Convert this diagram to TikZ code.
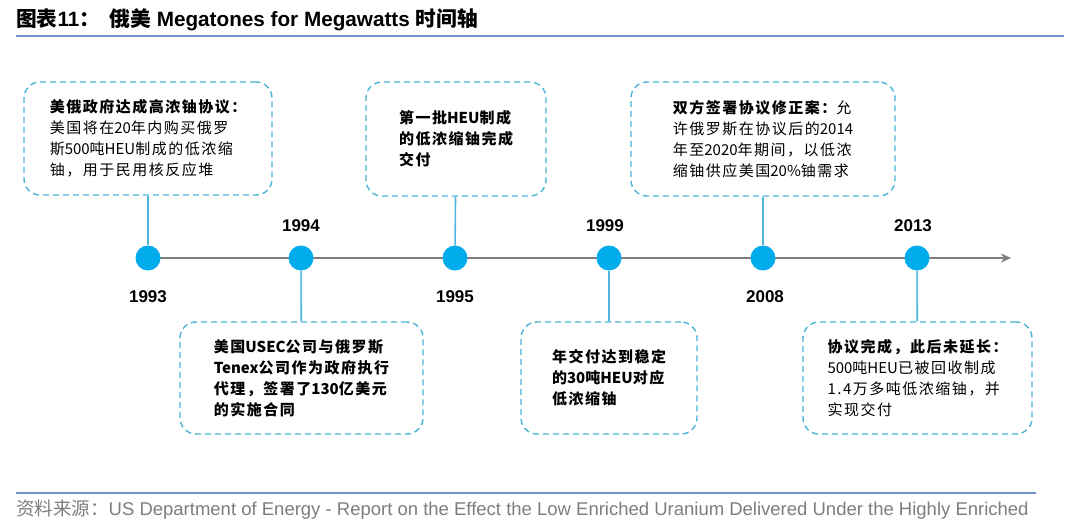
\documentclass[tikz,border=0pt]{standalone}
\usepackage{fontspec}
\setmainfont{Liberation Sans}
\newfontfamily\cjk[LetterSpace=10]{Noto Sans CJK SC}
\newfontfamily\cjkplain{Noto Sans CJK SC}
\newcommand\tn[1]{{\cjkplain #1}}
\usepackage{tikz}
\usetikzlibrary{arrows.meta,positioning}

\definecolor{dotblue}{RGB}{0,172,236}
\definecolor{stemblue}{RGB}{78,182,222}
\definecolor{boxblue}{RGB}{74,180,214}
\definecolor{ruleblue}{RGB}{112,146,200}
\definecolor{axisgray}{RGB}{128,128,128}
\definecolor{srcgray}{RGB}{125,125,125}

\begin{document}
\begin{tikzpicture}
[
                 x =  1pt,
                 y = -1pt,
       event/.style = { draw=boxblue, line width=1.4pt, dash pattern=on 6pt off 4pt,
                        rounded corners=16pt, inner sep=0pt, align=left,
                        font=\cjk\fontsize{15}{21}\selectfont },
         dot/.style = { draw=none, fill=dotblue, circle, minimum size=25pt, inner sep=0pt },
        stem/.style = { draw=stemblue, line width=1.6pt },
        axis/.style = { draw=axisgray, line width=2.6pt, -{Stealth[length=10pt,width=9pt]} },
        year/.style = { draw=none, fill=none, font=\bfseries\fontsize{17}{19}\selectfont },
       title/.style = { anchor=west, inner sep=0pt, font=\bfseries\fontsize{20.7}{23}\selectfont },
      source/.style = { anchor=west, inner sep=0pt, text=srcgray, font=\fontsize{18.5}{21}\selectfont },
     hairline/.style = { draw=ruleblue, line width=1.2pt }
]

    \useasboundingbox (0,0) rectangle (1080,527);

    \node (Title) at (16,20) [title]
        {{\cjkplain 图表}11{\cjkplain ：\ \ 俄美} Megatones for Megawatts {\cjkplain 时间轴}};
    \coordinate (TopRuleL) at (16,36);
    \coordinate (TopRuleR) at (1064,36);
    \draw[hairline] (TopRuleL) -- (TopRuleR);

    \coordinate (AxisStart) at (148,258);
    \coordinate (AxisEnd)   at (1011,258);
    \draw[axis] (AxisStart) -- (AxisEnd);

    \node (Y1993) at (148,258) [dot] {};
    \node (Y1994) at (301,258) [dot] {};
    \node (Y1995) at (455,258) [dot] {};
    \node (Y1999) at (609,258) [dot] {};
    \node (Y2008) at (763,258) [dot] {};
    \node (Y2013) at (917,258) [dot] {};

    \node (L1993) at (148,297) [year] {1993};
    \node (L1994) at (301,226) [year] {1994};
    \node (L1995) at (455,297) [year] {1995};
    \node (L1999) at (605,226) [year] {1999};
    \node (L2008) at (765,297) [year] {2008};
    \node (L2013) at (913,226) [year] {2013};

    \node (Deal)     at (148,138.5) [event, minimum width=248pt, minimum height=113pt]
        {{\bfseries 美俄政府达成高浓铀协议：}\\美国将在\tn{20}年内购买俄罗\\斯\tn{500}吨\tn{HEU}制成的低浓缩\\铀，用于民用核反应堆};
    \node (FirstLot) at (456,139)   [event, minimum width=180pt, minimum height=114pt]
        {\bfseries 第一批\tn{HEU}制成\\\bfseries 的低浓缩铀完成\\\bfseries 交付};
    \node (Amend)    at (763,139)   [event, minimum width=264pt, minimum height=114pt]
        {{\bfseries 双方签署协议修正案：}允\\许俄罗斯在协议后的\tn{2014}\\年至\tn{2020}年期间，以低浓\\缩铀供应美国\tn{20\%}铀需求};
    \node (Contract) at (301.5,378) [event, minimum width=243pt, minimum height=112pt]
        {\bfseries 美国\tn{USEC}公司与俄罗斯\\\bfseries \tn{Tenex}公司作为政府执行\\\bfseries 代理，签署了\tn{130}亿美元\\\bfseries 的实施合同};
    \node (Stable)   at (609,378)   [event, minimum width=176pt, minimum height=112pt]
        {\bfseries 年交付达到稳定\\\bfseries 的\tn{30}吨\tn{HEU}对应\\\bfseries 低浓缩铀};
    \node (Done)     at (917.5,378) [event, minimum width=229pt, minimum height=112pt]
        {{\bfseries 协议完成，此后未延长：}\\\tn{500}吨\tn{HEU}已被回收制成\\1.4万多吨低浓缩铀，并\\实现交付};

    \draw[stem] (Y1993) -- (Deal);
    \draw[stem] (Y1995) -- (FirstLot);
    \draw[stem] (Y2008) -- (Amend);
    \draw[stem] (Y1994) -- (Contract);
    \draw[stem] (Y1999) -- (Stable);
    \draw[stem] (Y2013) -- (Done);

    \coordinate (FootRuleL) at (16,493);
    \coordinate (FootRuleR) at (1036,493);
    \draw[hairline] (FootRuleL) -- (FootRuleR);
    \node (Source) at (16,510) [source]
        {{\cjkplain 资料来源：}US Department of Energy - Report on the Effect the Low Enriched Uranium Delivered Under the Highly Enriched};

\end{tikzpicture}
\end{document}
